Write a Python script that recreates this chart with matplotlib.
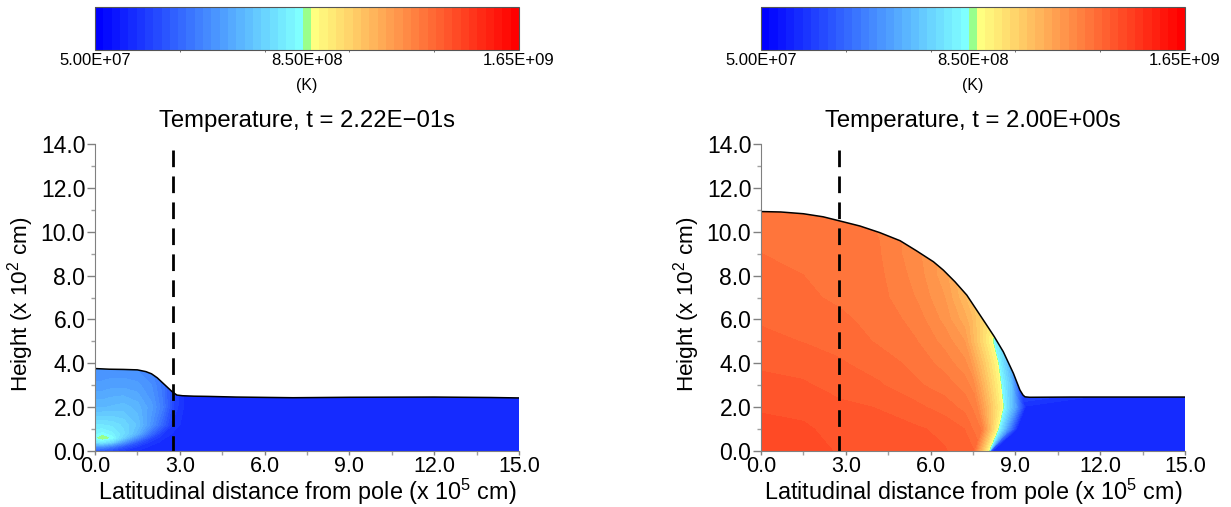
#!/usr/bin/env python3
import matplotlib
matplotlib.use("Agg")
import matplotlib.pyplot as plt
from matplotlib.colors import LinearSegmentedColormap
from matplotlib.patches import Polygon
import numpy as np

plt.rcParams["font.family"] = ["Liberation Sans", "DejaVu Sans"]
plt.rcParams["mathtext.default"] = "regular"

W, H = 1231, 507

# surface height (x 10^2 cm) against distance (x 10^5 cm)
surf_x_a = [0.0, 0.5, 1.0, 1.5, 1.8, 2.0, 2.2, 2.4, 2.6, 2.75, 2.9, 3.1, 3.5, 4.0, 5.0, 7.0, 9.0, 12.0, 14.0, 15.0]
surf_h_a = [3.76, 3.73, 3.72, 3.70, 3.62, 3.52, 3.34, 3.10, 2.86, 2.68, 2.55, 2.52, 2.50, 2.49, 2.46, 2.43, 2.45, 2.46, 2.44, 2.42]
surf_x_b = [0.0, 0.7, 1.5, 2.2, 2.76, 3.5, 4.2, 4.92, 5.5, 6.1, 6.45, 6.86, 7.28, 7.63, 7.98, 8.25, 8.57, 8.93, 9.16, 9.27, 9.34, 9.5, 11.0, 15.0]
surf_h_b = [10.92, 10.9, 10.82, 10.68, 10.5, 10.26, 9.96, 9.59, 9.13, 8.63, 8.25, 7.72, 7.11, 6.43, 5.75, 5.22, 4.53, 3.54, 2.78, 2.55, 2.47, 2.45, 2.46, 2.46]

grid_x_a = [0.0, 0.25, 0.6, 1.0, 1.5, 2.0, 2.4, 2.8, 3.2, 15.0]
grid_h_a = [0.0, 0.2, 0.4, 0.6, 0.8, 1.2, 2.0, 3.0, 4.0, 14.0]
temp_a = [
    [3.2, 3.0, 2.7, 2.3, 2.0, 1.95, 1.95, 1.95, 1.95, 1.95],
    [5.0, 5.0, 4.3, 3.3, 2.4, 2.0, 1.95, 1.95, 1.95, 1.95],
    [7.3, 7.6, 6.9, 5.2, 3.3, 2.2, 2.0, 1.95, 1.95, 1.95],
    [8.2, 8.62, 8.2, 6.8, 4.8, 2.8, 2.1, 1.95, 1.95, 1.95],
    [7.9, 8.1, 7.8, 7.2, 6.0, 3.8, 2.4, 2.0, 1.95, 1.95],
    [7.4, 7.4, 7.3, 7.0, 6.4, 5.0, 3.6, 2.2, 1.95, 1.95],
    [6.1, 6.1, 6.2, 6.3, 6.0, 5.3, 4.3, 2.6, 1.95, 1.95],
    [5.3, 5.3, 5.4, 5.4, 5.3, 4.9, 4.1, 2.7, 1.95, 1.95],
    [4.8, 4.8, 4.8, 4.8, 4.7, 4.4, 3.9, 2.8, 1.95, 1.95],
    [4.8, 4.8, 4.8, 4.8, 4.7, 4.4, 3.9, 2.8, 1.95, 1.95],
]

grid_h_b = [0, 1, 2, 3, 4, 5, 6, 7, 8, 9, 10, 11, 14]
grid_x_b = [
    [0.0, 1.5, 2.8, 4.2, 5.5, 6.5, 7.2, 7.5, 8.03, 8.07, 8.12, 8.2, 15.0],
    [0.0, 1.5, 2.8, 4.2, 5.5, 6.5, 7.2, 7.8, 8.36, 8.41, 8.8, 9.05, 15.0],
    [0.0, 1.5, 2.8, 4.2, 5.5, 6.5, 7.2, 7.6, 8.54, 8.59, 9.0, 9.35, 15.0],
    [0.0, 1.5, 2.8, 4.2, 5.5, 6.5, 7.2, 7.5, 8.46, 8.51, 8.85, 9.1, 15.0],
    [0.0, 1.5, 2.8, 4.2, 5.5, 6.5, 7.2, 7.4, 8.36, 8.41, 8.6, 8.8, 15.0],
    [0.0, 1.5, 2.8, 4.2, 5.5, 6.5, 7.2, 7.3, 8.17, 8.22, 8.35, 8.6, 15.0],
    [0.0, 1.5, 2.8, 4.2, 5.5, 6.5, 7.2, 7.4, 8.3, 8.35, 8.5, 8.7, 15.0],
    [0.0, 1.5, 2.8, 4.2, 5.5, 6.5, 7.2, 7.5, 8.3, 8.35, 8.5, 8.7, 15.0],
    [0.0, 1.5, 2.8, 4.2, 5.5, 6.5, 7.2, 7.6, 8.3, 8.35, 8.5, 8.7, 15.0],
    [0.0, 1.5, 2.8, 4.2, 5.5, 6.5, 7.2, 7.6, 8.3, 8.35, 8.5, 8.7, 15.0],
    [0.0, 1.5, 2.8, 4.2, 5.5, 6.5, 7.2, 7.6, 8.3, 8.35, 8.5, 8.7, 15.0],
    [0.0, 1.5, 2.8, 4.2, 5.5, 6.5, 7.2, 7.6, 8.3, 8.35, 8.5, 8.7, 15.0],
    [0.0, 1.5, 2.8, 4.2, 5.5, 6.5, 7.2, 7.6, 8.3, 8.35, 8.5, 8.7, 15.0],
]
temp_b = [
    [14.2, 14.15, 13.95, 13.82, 13.74, 13.7, 13.5, 13.4, 8.9, 8.1, 3.0, 1.95, 1.95],
    [14.1, 14.05, 13.85, 13.78, 13.72, 13.6, 13.36, 12.7, 8.9, 8.1, 4.5, 2.0, 1.95],
    [13.95, 13.88, 13.75, 13.66, 13.45, 13.2, 12.95, 12.6, 8.9, 8.1, 5.5, 2.0, 1.95],
    [13.78, 13.72, 13.55, 13.4, 13.1, 12.9, 12.6, 12.3, 8.9, 8.1, 6.5, 3.5, 1.95],
    [13.62, 13.55, 13.4, 13.2, 12.95, 12.6, 12.2, 11.9, 8.9, 8.1, 7.0, 6.0, 1.95],
    [13.46, 13.35, 13.25, 13.0, 12.75, 12.3, 11.8, 11.5, 8.9, 8.1, 7.8, 7.0, 1.95],
    [13.32, 13.2, 13.1, 12.95, 12.6, 12.0, 11.3, 11.0, 8.9, 8.1, 7.8, 7.0, 1.95],
    [13.2, 13.1, 13.0, 12.85, 12.4, 11.8, 10.9, 10.4, 8.9, 8.1, 7.8, 7.0, 1.95],
    [13.14, 13.05, 12.95, 12.8, 12.3, 11.6, 10.7, 10.2, 8.9, 8.1, 7.8, 7.0, 1.95],
    [13.05, 13.0, 12.9, 12.75, 12.2, 11.6, 10.7, 10.2, 8.9, 8.1, 7.8, 7.0, 1.95],
    [12.98, 12.95, 12.88, 12.72, 12.2, 11.6, 10.7, 10.2, 8.9, 8.1, 7.8, 7.0, 1.95],
    [12.95, 12.92, 12.86, 12.7, 12.2, 11.6, 10.7, 10.2, 8.9, 8.1, 7.8, 7.0, 1.95],
    [12.95, 12.92, 12.86, 12.7, 12.2, 11.6, 10.7, 10.2, 8.9, 8.1, 7.8, 7.0, 1.95],
]

titles = ["Temperature, t = 2.22E\u221201s", "Temperature, t = 2.00E+00s"]
cbar_labels = ["5.00E+07", "8.50E+08", "1.65E+09"]
cbar_ticks = [5.0e7, 8.5e8, 1.65e9]
front_x = 2.75

levels = np.linspace(5.0e7, 1.65e9, 52)
cmap = LinearSegmentedColormap.from_list(
    "temp",
    [(0.0, "#0000ff"), (0.48, "#7fffff"), (0.5, "#99ff8c"), (0.52, "#ffff80"), (1.0, "#ff0000")],
    N=51,
)


def pixel_axes(fig, left, top, right, bottom):
    return fig.add_axes([left / W, 1 - bottom / H, (right - left) / W, (bottom - top) / H])


def draw_panel(fig, left, X, Y, T, sx, sh, title):
    ax = pixel_axes(fig, left, 144, left + 424, 451)
    cs = ax.contourf(X, Y, np.array(T) * 1e8, levels=levels, cmap=cmap)
    edge = list(zip(sx, sh)) + [(sx[-1], 0.0), (sx[0], 0.0)]
    cs.set_clip_path(Polygon(edge, closed=True, transform=ax.transData))
    ax.plot(sx, sh, color="black", lw=1.1)
    ax.plot([front_x, front_x], [13.74, 0], color="black", lw=2.0, dashes=(6.0, 3.35), dash_capstyle="butt")

    ax.set_xlim(0, 15)
    ax.set_ylim(0, 14)
    ax.set_xticks(np.arange(0, 15.1, 3))
    ax.set_xticks(np.arange(1.5, 15, 3), minor=True)
    ax.set_yticks(np.arange(0, 14.1, 2))
    ax.set_yticks(np.arange(1, 14, 2), minor=True)
    ax.xaxis.set_major_formatter("{x:.1f}")
    ax.yaxis.set_major_formatter("{x:.1f}")
    ax.spines[["top", "right"]].set_visible(False)
    ax.spines[["left", "bottom"]].set_color("#808080")
    ax.tick_params(axis="y", which="major", length=6, width=1, color="#808080", labelsize=16.5, pad=1)
    ax.tick_params(axis="x", which="major", length=3, width=1, color="#808080", labelsize=15.5, pad=0.5)
    ax.tick_params(which="minor", length=3, width=1, color="#a0a0a0")
    ax.set_xlabel("Latitudinal distance from pole (x 10$^5$ cm)", fontsize=16.8, labelpad=0)
    ax.set_ylabel("Height (x 10$^2$ cm)", fontsize=16.2, labelpad=3)
    ax.yaxis.label.set_y(0.479)
    ax.set_title(title, fontsize=17.2, pad=12.5)

    cax = pixel_axes(fig, left, 7, left + 424, 50)
    cbar = fig.colorbar(cs, cax=cax, orientation="horizontal")
    cbar.outline.set_edgecolor("#555555")
    cbar.outline.set_linewidth(0.8)
    cax.set_xticks(cbar_ticks, labels=cbar_labels)
    cax.set_xticks(np.linspace(5.0e7, 1.65e9, 6), minor=True)
    cax.tick_params(which="major", length=0, labelsize=12, pad=2)
    cax.tick_params(which="minor", length=1.5, width=0.6, color="#555555")
    cax.set_xlabel("(K)", fontsize=11.5, labelpad=7)


fig = plt.figure(figsize=(W / 100, H / 100), dpi=100)
draw_panel(fig, 95, grid_x_a, grid_h_a, temp_a, surf_x_a, surf_h_a, titles[0])
hh = np.array(grid_h_b)[:, None] * np.ones(len(grid_x_b[0]))
draw_panel(fig, 761, np.array(grid_x_b), hh, temp_b, surf_x_b, surf_h_b, titles[1])
fig.savefig("out.png", dpi=100)
print("Saved out.png")
